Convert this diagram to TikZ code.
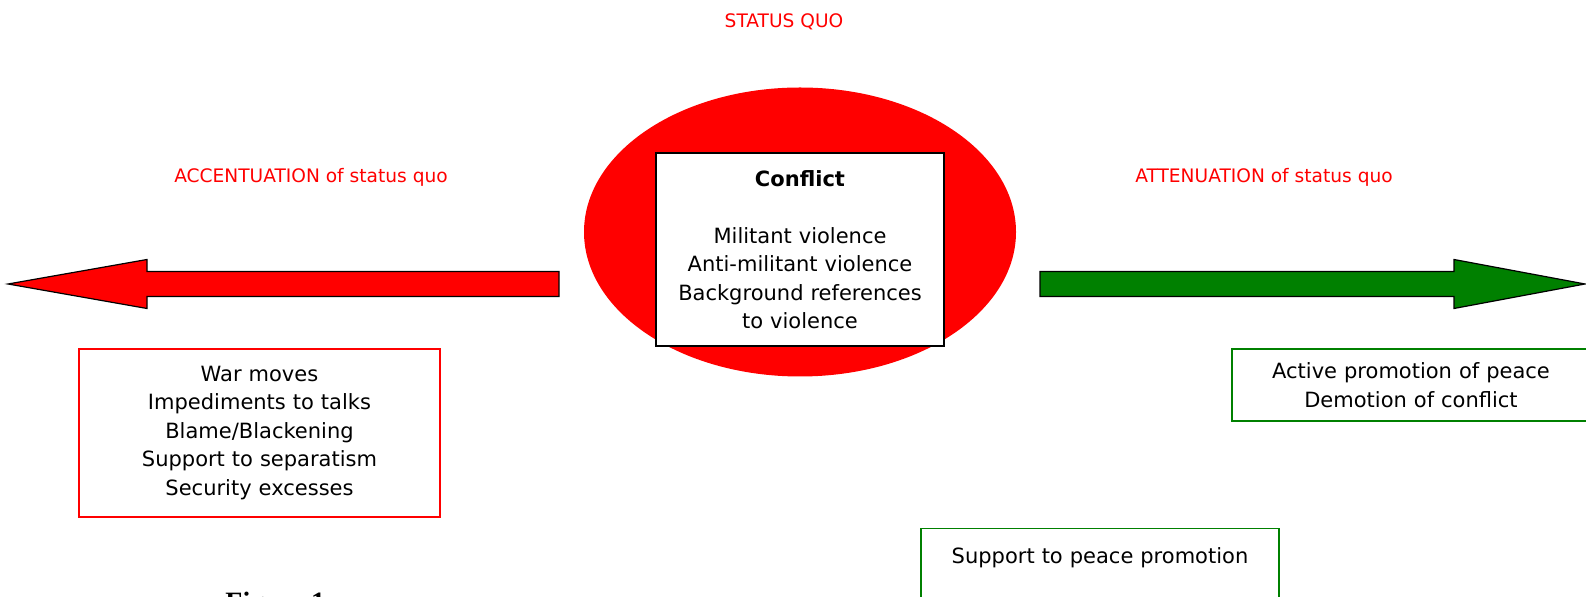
\documentclass[tikz,border=0pt]{standalone}
\usepackage{fontspec}
\setmainfont{DejaVu Sans}
\newfontfamily\figfont{Liberation Serif}
\usetikzlibrary{shapes}
\definecolor{peacegreen}{RGB}{0,128,0}
\tikzset{
	redtext/.style   = {text = red, inner sep = 0pt, font = \fontsize{9.3}{11}\selectfont},
	zone/.style      = {ellipse, fill = red, inner sep = 0pt,
		minimum width = 216pt, minimum height = 144.5pt},
	corebox/.style   = {draw, line width = 1pt, fill = white, inner sep = 0pt,
		minimum width = 144pt, minimum height = 96.5pt, text width = 140pt,
		align = center, font = \boxtext},
	accentbox/.style = {draw = red, line width = 0.75pt, inner sep = 0pt,
		minimum width = 180.5pt, minimum height = 84pt, text width = 176pt,
		align = center, font = \boxtext}, % escalation
	attenbox/.style  = {draw = peacegreen, line width = 0.75pt, inner sep = 0pt,
		minimum width = 179pt, minimum height = 36pt, text width = 175pt,
		align = center, font = \boxtext}, % de-escalation
	shaft/.style     = {draw, line width = 0.6pt, line join = miter}
}
\newcommand{\boxtext}{\fontsize{10.5}{14.25}\selectfont}

\begin{document}
\begin{tikzpicture}[x = 0.5pt, y = -0.5pt]
	\useasboundingbox (0,0) rectangle (1586,597);
	
	% headings
	\draw
	node at (784,22) [redtext] (quo) {STATUS QUO}
	node at (311,177) [redtext] (accent) {ACCENTUATION of status quo}
	node at (1264,177) [redtext] (atten) {ATTENUATION of status quo};
	
	% the conflict in the middle
	\draw
	node at (800,232) [zone] (zone) {}
	node at (800,249.5) [corebox] (conflict) {\textbf{Conflict}\\[14.25pt]
		Militant violence\\Anti-militant violence\\Background references\\to violence};
	
	% the two arrows
	\draw[shaft, fill = red] (559,271.5) -- (147,271.5) -- (147,259.5) -- (8,284)
		-- (147,308.5) -- (147,296.5) -- (559,296.5) -- cycle;
	\draw[shaft, fill = peacegreen] (1040,271.5) -- (1454,271.5) -- (1454,259.5) -- (1585,284)
		-- (1454,308.5) -- (1454,296.5) -- (1040,296.5) -- cycle;
	
	% boxes below
	\draw
	node at (259.5,433) [accentbox] (war) {War moves\\Impediments to talks\\Blame/Blackening\\
		Support to separatism\\Security excesses}
	node at (1411,385) [attenbox] (peace) {Active promotion of peace\\Demotion of conflict}
	node at (1100,528) [attenbox, anchor = north, minimum height = 0pt, inner ysep = 9.7pt,
		text height = 7.8pt, text depth = 40pt] (support) {Support to peace promotion};
	
	\node at (225,592) [anchor = north west, inner sep = 0pt,
		font = \figfont\bfseries\fontsize{14}{16}\selectfont] (fig) {Figure 1};
\end{tikzpicture}
\end{document}
